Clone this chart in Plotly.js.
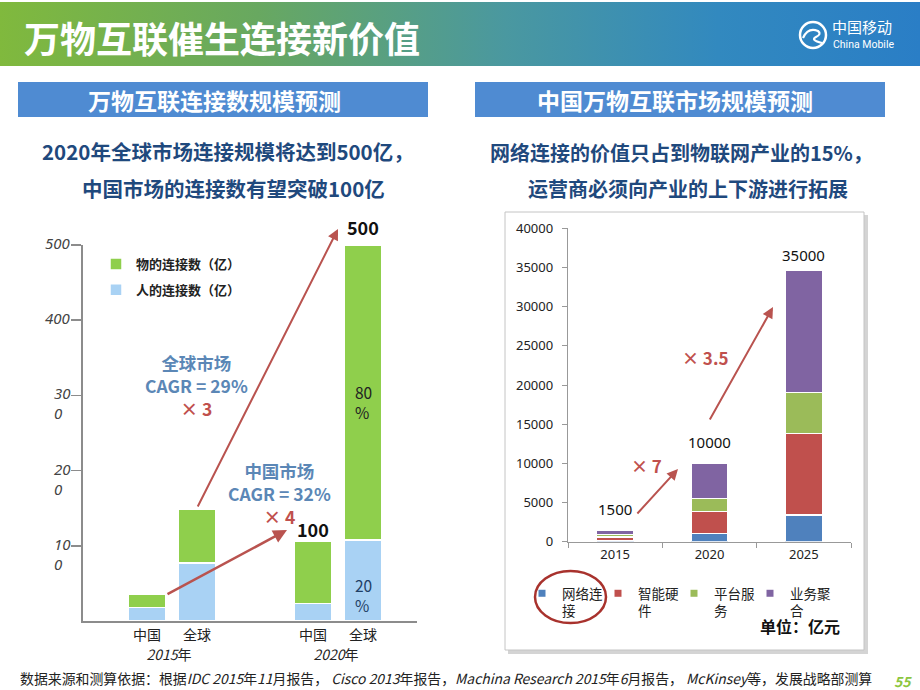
<!DOCTYPE html>
<html><head><meta charset="utf-8">
<script src="https://cdn.plot.ly/plotly-3.0.1.min.js"></script>
<style>
html,body{margin:0;padding:0;background:#fff;width:920px;height:690px;overflow:hidden;}
#band{position:absolute;left:0;top:2px;width:920px;height:64px;background:linear-gradient(90deg,#80b93d 0%,#68a860 28%,#4a98a0 55%,#3289bf 78%,#2a7ec6 100%);}
#chart{position:absolute;left:0;top:0;width:920px;height:690px;}
</style></head><body>
<div id="band"></div><div id="chart"></div>
<script>
// ---------- Left chart data (亿) ----------
const leftCats = ['中国', '全球'];
const leftYears = ['<i>2015</i>年', '<i>2020</i>年'];
const people2015 = [18, 77];
const things2015 = [17, 72];
const people2020 = [23, 108];
const things2020 = [83, 392];
const leftTickVals = [100, 200, 300, 400, 500];
const leftTickText = ['10<br>0', '20<br>0', '30<br>0', '400', '500'];
const leftNames = ['人的连接数（亿）', '物的连接数（亿）'];

// ---------- Right chart data (亿元) ----------
const rightYears = ['2015', '2020', '2025'];
const network = [200, 1000, 3400];
const hardware = [400, 2900, 10400];
const platform = [300, 1600, 5250];
const business = [600, 4500, 15550];
const rightTotalLabels = ['1500', '10000', '35000'];
const rightNames = ['网络连<br>接', '智能硬<br>件', '平台服<br>务', '业务聚<br>合'];

const W = 920, H = 690;
const px = x => x / W;
const py = y => 1 - y / H;
const CJK = '"Noto Sans CJK SC", "Noto Sans", sans-serif';
const cGreen = '#8fcf4c', cBlue = '#a9d2f4';
const rColors = ['#4f81bd', '#c0504d', '#9bbb59', '#8064a2'];
const arrowC = '#b9534f';

const traces = [];
// left chart
traces.push({type:'bar', x:leftCats, y:people2015, xaxis:'x', yaxis:'y', width:0.74, name:leftNames[0], legendrank:2, legendgroup:'p',
  marker:{color:cBlue, line:{color:'#fff', width:1.5}}, legend:'legend', hoverinfo:'skip'});
traces.push({type:'bar', x:leftCats, y:things2015, xaxis:'x', yaxis:'y', width:0.74, name:leftNames[1], legendrank:1, legendgroup:'t',
  marker:{color:cGreen, line:{color:'#fff', width:1.5}}, legend:'legend', hoverinfo:'skip'});
traces.push({type:'bar', x:leftCats, y:people2020, xaxis:'x2', yaxis:'y', width:0.74, name:leftNames[0], showlegend:false, legendgroup:'p',
  marker:{color:cBlue, line:{color:'#fff', width:1.5}}, hoverinfo:'skip'});
traces.push({type:'bar', x:leftCats, y:things2020, xaxis:'x2', yaxis:'y', width:0.74, name:leftNames[1], showlegend:false, legendgroup:'t',
  marker:{color:cGreen, line:{color:'#fff', width:1.5}}, hoverinfo:'skip'});
// right chart
[network, hardware, platform, business].forEach((s, i) => {
  traces.push({type:'bar', x:rightYears, y:s, xaxis:'x3', yaxis:'y2', width:0.39, showlegend:false,
    marker:{color:rColors[i], line:{color:'#fff', width:1.2}}, hoverinfo:'skip'});
});
// legend entries for right chart (kept on a hidden helper subplot)
rightNames.forEach((n, i) => {
  traces.push({type:'scatter', mode:'markers', x:[0], y:[0], xaxis:'x4', yaxis:'y3', name:n,
    marker:{symbol:'square', size:7, color:rColors[i]}, legend:'legend2', hoverinfo:'skip'});
});
// blank spacer entry so the last legend label is not clipped
traces.push({type:'scatter', mode:'markers', x:[0], y:[0], xaxis:'x4', yaxis:'y3', name:' ',
  marker:{symbol:'square', size:1, color:'rgba(0,0,0,0)'}, legend:'legend2', hoverinfo:'skip'});

const sum = arrs => arrs[0].map((_, i) => arrs.reduce((a, b) => a + b[i], 0));
const rightTotals = sum([network, hardware, platform, business]);
const tot2020 = sum([people2020, things2020]);

const ann = [];
function txt(x, y, text, size, color, opt) {
  ann.push(Object.assign({xref:'paper', yref:'paper', x:px(x), y:py(y), text:text, showarrow:false,
    font:{family:CJK, size:size, color:color}, xanchor:'center', yanchor:'middle'}, opt || {}));
}
function arrow(x0, y0, x1, y1, w) {
  ann.push({xref:'paper', yref:'paper', x:px(x1), y:py(y1), ax:x0 - x1, ay:y0 - y1, text:'', showarrow:true,
    arrowhead:2, arrowsize:1.1, arrowwidth:w || 2, arrowcolor:arrowC});
}
// left y tick labels (first line level with the tick)
leftTickVals.forEach((v, i) => {
  ann.push({xref:'paper', yref:'y', x:px(73), y:v, yshift:14, xanchor:'right', yanchor:'top', align:'left',
    text:leftTickText[i], showarrow:false, font:{family:'"Noto Sans", sans-serif', size:15, color:'#444', style:'italic'}});
});
// header
txt(22, 37, '<b>万物互联催生连接新价值</b>', 36, '#ffffff', {xanchor:'left'});
txt(830, 27, '中国移动', 15, '#ffffff', {xanchor:'left'});
txt(831, 44, 'China Mobile', 10.5, '#ffffff', {xanchor:'left', font:{family:'Roboto, sans-serif', size:10.5, color:'#fff'}});
txt(214, 100, '<b>万物互联连接数规模预测</b>', 23, '#ffffff');
txt(675, 100, '<b>中国万物互联市场规模预测</b>', 23, '#ffffff');
txt(228, 151, '<b>2020年全球市场连接规模将达到500亿，</b>', 20.5, '#1f497d');
txt(234, 188, '<b>中国市场的连接数有望突破100亿</b>', 20.5, '#1f497d');
txt(681, 152, '<b>网络连接的价值只占到物联网产业的15%，</b>', 20, '#1f497d');
txt(688, 188, '<b>运营商必须向产业的上下游进行拓展</b>', 20, '#1f497d');
// left chart annotations
ann.push({xref:'x2', yref:'y', x:'全球', y:tot2020[1], yshift:18, text:'<b>500</b>', showarrow:false,
  font:{family:CJK, size:18, color:'#111'}});
ann.push({xref:'x2', yref:'y', x:'中国', y:tot2020[0], yshift:12, text:'<b>100</b>', showarrow:false,
  font:{family:CJK, size:18, color:'#111'}});
ann.push({xref:'x2', yref:'y', x:'全球', y:people2020[1] + things2020[1] * 0.467, text:'80<br>%', align:'left', showarrow:false,
  font:{family:CJK, size:15.5, color:'#222'}});
ann.push({xref:'x2', yref:'y', x:'全球', y:people2020[1] * 0.32, text:'20<br>%', align:'left', showarrow:false,
  font:{family:CJK, size:15.5, color:'#1f3f66'}});
txt(196, 386, '<b>全球市场<br>CAGR = 29%<br><span style="color:#c0504d">× 3</span></b>', 17.5, '#5b87b6');
txt(279, 493, '<b>中国市场<br>CAGR = 32%<br><span style="color:#c0504d">× 4</span></b>', 17.5, '#5b87b6');
arrow(197, 508, 338, 229, 2);
arrow(166, 595, 287, 530, 2.5);
// right chart annotations
rightYears.forEach((yr, i) => {
  ann.push({xref:'x3', yref:'y2', x:i, y:rightTotals[i], yshift:[21, 21, 16][i], text:rightTotalLabels[i], showarrow:false,
    font:{family:'"Noto Sans", sans-serif', size:15, color:'#111'}});
});
txt(705, 357, '<b>× 3.5</b>', 17, '#c0504d');
txt(646, 465, '<b>× 7</b>', 17, '#c0504d');
arrow(636, 515, 678, 469, 2);
arrow(709, 421, 773, 307, 2);
txt(800, 626, '<b>单位：亿元</b>', 16, '#111');
// footer
txt(18, 678, '数据来源和测算依据：根据<i>IDC 2015</i>年<i>11</i>月报告， <i>Cisco 2013</i>年报告，<i>Machina Research 2015</i>年<i>6</i>月报告， <i>McKinsey</i>等，发展战略部测算',
  13.9, '#222', {xanchor:'left'});
txt(903, 681, '<b><i>55</i></b>', 14, '#8cc63f');

const shapes = [];
function rect(x0, y0, x1, y1, fill, line, lw) {
  shapes.push({type:'rect', xref:'paper', yref:'paper', x0:px(x0), x1:px(x1), y0:py(y1), y1:py(y0), layer:'below',
    fillcolor:fill, line:{color:line || 'rgba(0,0,0,0)', width:lw || 0}});
}
rect(18, 82, 428, 117, '#4f8bd2');
rect(475, 82, 885, 117, '#4f8bd2');
rect(508, 215, 868, 654, '#d4d4d4');
rect(505, 212, 864, 650, '#ffffff', '#c4c4c4', 1);
// logo icon
shapes.push({type:'circle', xref:'paper', yref:'paper', x0:px(800), x1:px(826), y0:py(48), y1:py(22),
  line:{color:'#fff', width:2.5}});
shapes.push({type:'path', xref:'paper', yref:'paper',
  path:`M${px(803)},${py(38)} Q${px(808)},${py(27)} ${px(818)},${py(31)} Q${px(822)},${py(34)} ${px(816)},${py(37)} Q${px(810)},${py(40)} ${px(822)},${py(43)}`,
  line:{color:'#fff', width:2.2}});
// highlight ellipse
shapes.push({type:'circle', xref:'paper', yref:'paper', x0:px(535), x1:px(606), y0:py(623), y1:py(571),
  line:{color:'#a8322d', width:2.5}});

const layout = {
  width:W, height:H, margin:{l:0, r:0, t:0, b:0, autoexpand:false},
  paper_bgcolor:'rgba(0,0,0,0)', plot_bgcolor:'rgba(0,0,0,0)',
  barmode:'stack', font:{family:CJK, color:'#222'},
  xaxis:{domain:[px(83), px(255)], anchor:'y', type:'category', categoryorder:'array', categoryarray:leftCats, range:[-1.28, 2.16],
    showline:true, linecolor:'#8c8c8c', linewidth:2, ticks:'', tickfont:{size:14, color:'#222'},
    title:{text:leftYears[0], font:{size:14, color:'#222'}, standoff:0}},
  xaxis2:{domain:[px(255), px(417)], anchor:'y', type:'category', categoryorder:'array', categoryarray:leftCats, range:[-1.16, 2.08],
    showline:true, linecolor:'#8c8c8c', linewidth:2, ticks:'', tickfont:{size:14, color:'#222'},
    title:{text:leftYears[1], font:{size:14, color:'#222'}, standoff:0}},
  yaxis:{domain:[py(621), py(245)], anchor:'x', range:[0, 500], tickvals:leftTickVals, showticklabels:false,
    showline:true, linecolor:'#8c8c8c', linewidth:2, ticks:'outside', ticklen:10, tickcolor:'#8c8c8c', tickwidth:1.5,
    showgrid:false, zeroline:false},
  xaxis3:{domain:[px(568), px(851)], anchor:'y2', type:'category', categoryorder:'array', categoryarray:rightYears, range:[-0.5, 2.5],
    showline:true, linecolor:'#999', linewidth:1.2, ticks:'outside', tickson:'boundaries', ticklen:5, tickcolor:'#999',
    tickangle:0, tickfont:{size:13, color:'#222', family:'"Noto Sans", sans-serif'}},
  yaxis2:{domain:[py(541.7), py(228.3)], anchor:'x3', range:[0, 40000], dtick:5000, tickformat:'d',
    showline:true, linecolor:'#999', linewidth:1.2, ticks:'outside', ticklen:5, tickcolor:'#999', ticklabelstandoff:6,
    showgrid:false, zeroline:false, tickfont:{size:13, color:'#222', family:'"Noto Sans", sans-serif'}},
  xaxis4:{domain:[0, 0.01], anchor:'y3', visible:false, range:[10, 11]},
  yaxis3:{domain:[0, 0.01], anchor:'x4', visible:false, range:[10, 11]},
  legend:{x:px(96), y:py(249), xanchor:'left', yanchor:'top', traceorder:'grouped', tracegroupgap:6,
    bgcolor:'rgba(0,0,0,0)', itemwidth:30, font:{size:13, color:'#222', weight:'bold'}},
  legend2:{orientation:'h', x:px(522), y:py(578), xanchor:'left', yanchor:'top', valign:'top', traceorder:'normal',
    itemwidth:30, entrywidth:31, entrywidthmode:'pixels', bgcolor:'rgba(0,0,0,0)', font:{size:13.5, color:'#222'}},
  annotations:ann, shapes:shapes, showlegend:true
};
Plotly.newPlot('chart', traces, layout, {staticPlot:true, displayModeBar:false});
</script>
</body></html>
